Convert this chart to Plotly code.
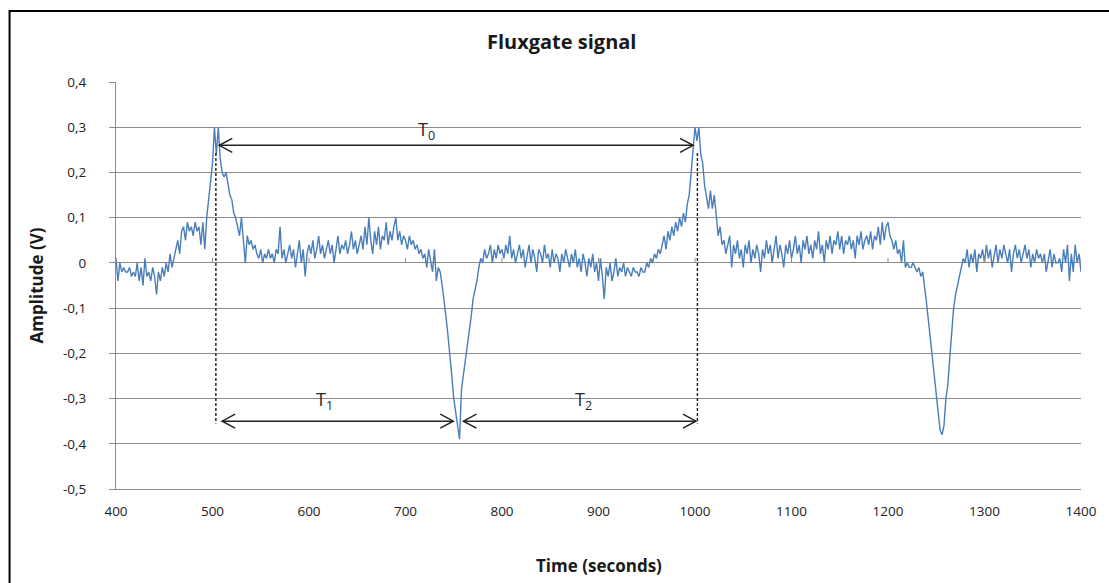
import plotly.graph_objects as go

# ---------------- data ----------------
time_s = list(range(400, 1401, 2))

amplitude_v = [
    # 400-418
    0.01, -0.04, 0.00, -0.02, -0.01, -0.02, -0.02, -0.01, -0.03, -0.02,
    # 420-438
    -0.03, 0.00, -0.04, -0.01, -0.05, 0.01, -0.03, -0.02, -0.04, -0.01,
    # 440-458
    -0.03, -0.07, -0.02, -0.04, -0.01, -0.03, 0.00, -0.02, 0.02, -0.01,
    # 460-478
    0.01, 0.03, 0.05, 0.02, 0.07, 0.08, 0.05, 0.09, 0.07, 0.08,
    # 480-498
    0.06, 0.09, 0.07, 0.08, 0.04, 0.09, 0.03, 0.10, 0.14, 0.17,
    # 500-518
    0.22, 0.30, 0.24, 0.30, 0.23, 0.20, 0.19, 0.20, 0.17, 0.15,
    # 520-538
    0.14, 0.11, 0.10, 0.08, 0.06, 0.10, 0.04, 0.00, 0.06, 0.04,
    # 540-558
    0.05, 0.03, 0.04, 0.02, 0.01, 0.03, 0.00, 0.02, 0.01, 0.03,
    # 560-578
    0.01, 0.02, 0.00, 0.03, 0.02, 0.08, 0.01, 0.03, 0.00, 0.02,
    # 580-598
    0.04, 0.01, 0.03, -0.01, 0.02, 0.05, 0.00, 0.03, -0.03, 0.02,
    # 600-618
    0.04, 0.02, 0.05, 0.01, 0.03, 0.06, 0.02, 0.04, 0.01, 0.03,
    # 620-638
    0.05, 0.02, 0.04, 0.00, 0.03, 0.06, 0.02, 0.04, 0.03, 0.05,
    # 640-658
    0.02, 0.04, 0.07, 0.03, 0.05, 0.02, 0.04, 0.06, 0.03, 0.08,
    # 660-678
    0.04, 0.10, 0.05, 0.02, 0.07, 0.04, 0.08, 0.03, 0.06, 0.05,
    # 680-698
    0.09, 0.04, 0.07, 0.05, 0.08, 0.10, 0.05, 0.07, 0.04, 0.06,
    # 700-718
    0.05, 0.03, 0.06, 0.04, 0.05, 0.03, 0.04, 0.02, 0.03, 0.01,
    # 720-738
    0.02, -0.01, 0.03, 0.00, -0.02, 0.03, -0.04, -0.01, -0.02, -0.05,
    # 740-758
    -0.08, -0.12, -0.16, -0.20, -0.25, -0.30, -0.33, -0.37, -0.39, -0.28,
    # 760-778
    -0.25, -0.22, -0.18, -0.15, -0.12, -0.08, -0.06, -0.04, -0.01, 0.01,
    # 780-798
    0.00, 0.03, 0.01, 0.02, 0.04, 0.00, 0.03, 0.01, 0.04, 0.02,
    # 800-818
    0.03, 0.01, 0.04, 0.02, 0.06, 0.01, 0.03, 0.00, 0.02, 0.04,
    # 820-838
    0.01, 0.03, -0.01, 0.02, 0.04, 0.00, 0.03, 0.01, -0.02, 0.03,
    # 840-858
    0.02, 0.00, 0.04, 0.01, 0.02, -0.01, 0.03, 0.00, 0.02, 0.01,
    # 860-878
    -0.02, 0.02, 0.00, 0.03, 0.01, -0.01, 0.02, 0.00, 0.03, -0.01,
    # 880-898
    0.01, -0.02, 0.02, 0.00, -0.03, 0.01, -0.01, 0.02, -0.02, 0.00,
    # 900-918
    -0.04, 0.01, -0.03, -0.08, -0.01, -0.03, 0.00, -0.04, -0.02, 0.01,
    # 920-938
    -0.03, -0.01, -0.02, 0.00, -0.03, -0.01, -0.02, -0.03, -0.01, -0.02,
    # 940-958
    -0.02, -0.03, -0.01, -0.02, -0.02, 0.00, -0.01, 0.01, 0.00, 0.02,
    # 960-978
    0.01, 0.03, 0.02, 0.04, 0.06, 0.03, 0.07, 0.05, 0.08, 0.06,
    # 980-998
    0.09, 0.07, 0.10, 0.08, 0.11, 0.09, 0.13, 0.15, 0.20, 0.24,
    # 1000-1018
    0.30, 0.27, 0.30, 0.24, 0.22, 0.17, 0.14, 0.12, 0.16, 0.12,
    # 1020-1038
    0.15, 0.10, 0.06, 0.08, 0.04, 0.05, 0.02, 0.04, 0.06, -0.01,
    # 1040-1058
    0.04, 0.02, 0.05, 0.01, 0.03, -0.01, 0.04, 0.02, 0.05, 0.00,
    # 1060-1078
    0.03, 0.01, 0.04, 0.02, -0.02, 0.03, 0.01, 0.05, 0.02, 0.04,
    # 1080-1098
    0.00, 0.03, 0.06, 0.01, 0.04, 0.02, -0.01, 0.04, 0.02, 0.05,
    # 1100-1118
    0.01, 0.03, 0.06, 0.02, 0.04, 0.00, 0.05, 0.03, 0.06, 0.02,
    # 1120-1138
    0.04, 0.01, 0.05, 0.03, 0.07, 0.02, 0.04, 0.00, 0.05, 0.03,
    # 1140-1158
    0.06, 0.02, 0.05, 0.04, 0.07, 0.03, 0.06, 0.02, 0.05, 0.04,
    # 1160-1178
    0.06, 0.03, 0.05, 0.01, 0.06, 0.04, 0.07, 0.03, 0.05, 0.06,
    # 1180-1198
    0.04, 0.07, 0.03, 0.06, 0.05, 0.08, 0.04, 0.09, 0.05, 0.08,
    # 1200-1218
    0.09, 0.06, 0.05, 0.03, 0.05, 0.02, 0.03, 0.00, 0.05, -0.01,
    # 1220-1238
    0.00, -0.01, -0.01, 0.00, -0.01, -0.02, -0.01, -0.03, -0.02, -0.05,
    # 1240-1258
    -0.09, -0.13, -0.17, -0.21, -0.26, -0.30, -0.34, -0.37, -0.38, -0.36,
    # 1260-1278
    -0.30, -0.27, -0.21, -0.16, -0.10, -0.07, -0.05, -0.03, -0.01, 0.01,
    # 1280-1298
    0.00, 0.03, -0.01, 0.02, 0.00, 0.03, -0.02, 0.02, 0.01, 0.03,
    # 1300-1318
    0.00, 0.04, 0.01, 0.03, -0.01, 0.02, 0.04, 0.00, 0.03, 0.01,
    # 1320-1338
    0.04, 0.02, 0.00, 0.03, -0.02, 0.02, 0.04, 0.01, 0.03, 0.00,
    # 1340-1358
    0.02, 0.04, 0.01, 0.03, -0.01, 0.02, 0.00, 0.03, 0.01, 0.02,
    # 1360-1378
    0.00, 0.02, -0.02, 0.01, 0.03, -0.01, 0.02, 0.00, 0.00, 0.01,
    # 1380-1398
    -0.02, 0.03, 0.00, 0.04, -0.04, 0.02, -0.02, 0.04, 0.00, 0.02,
    # 1400
    -0.02,
]

x_ticks = list(range(400, 1401, 100))
y_tick_vals = [0.4, 0.3, 0.2, 0.1, 0.0, -0.1, -0.2, -0.3, -0.4, -0.5]
y_tick_text = ["0,4", "0,3", "0,2", "0,1", "0", "-0,1", "-0,2", "-0,3", "-0,4", "-0,5"]

# period annotations: (label, x_start, x_end, arrow_y, label_x, label_y)
periods = [
    ("T<sub>0</sub>", 507, 998, 0.260, 722, 0.292),
    ("T<sub>1</sub>", 510, 749.5, -0.350, 616, -0.304),
    ("T<sub>2</sub>", 760, 1001, -0.350, 884, -0.304),
]
# dashed marker lines: x position, y top, y bottom
markers = [(503.5, 0.243, -0.355), (1002.5, 0.243, -0.355)]

FONT = "Open Sans, Liberation Sans, Arial, sans-serif"
GRID = "#8c8c8c"

L_PX, R_PX = 116, 1086     # plot area left / right edge in pixels
T_PX, B_PX = 82, 489       # plot area top / bottom edge in pixels
W, H = 1109, 583
PW, PH = R_PX - L_PX, B_PX - T_PX

fig = go.Figure()
fig.add_trace(go.Scatter(
    x=time_s, y=amplitude_v, mode="lines",
    line=dict(color="#4A7EBB", width=1.4),
    showlegend=False, hoverinfo="x+y",
))

shapes = []
# small x-axis tick marks on the zero line
for t in x_ticks:
    shapes.append(dict(type="line", xref="x", yref="y", ysizemode="pixel",
                       yanchor=0, x0=t, x1=t, y0=0, y1=5,
                       line=dict(color=GRID, width=1)))
# dashed vertical lines
for xm, yt, yb in markers:
    shapes.append(dict(type="line", xref="x", yref="y", x0=xm, x1=xm, y0=yt, y1=yb,
                       line=dict(color="#1a1a1a", width=1.4, dash="3px,2px")))
# arrows
for label, xs, xe, ya, lx, ly in periods:
    shapes.append(dict(type="line", xref="x", yref="y", x0=xs, x1=xe, y0=ya, y1=ya,
                       line=dict(color="#222222", width=1.5)))
    shapes.append(dict(type="path", xref="x", yref="y", xsizemode="pixel", ysizemode="pixel",
                       xanchor=xs, yanchor=ya, path="M 13 7 L 0 0 L 13 -7",
                       line=dict(color="#222222", width=1.5)))
    shapes.append(dict(type="path", xref="x", yref="y", xsizemode="pixel", ysizemode="pixel",
                       xanchor=xe, yanchor=ya, path="M -13 7 L 0 0 L -13 -7",
                       line=dict(color="#222222", width=1.5)))
# chart border
shapes.append(dict(type="rect", xref="paper", yref="paper",
                   x0=(9 - L_PX) / PW, x1=1.2, y0=-0.5, y1=(B_PX - 11) / PH,
                   line=dict(color="black", width=2), fillcolor="rgba(0,0,0,0)"))

annotations = []
for label, xs, xe, ya, lx, ly in periods:
    annotations.append(dict(x=lx, y=ly, xref="x", yref="y", text=label, showarrow=False,
                            xanchor="center", yanchor="middle",
                            font=dict(family=FONT, size=18, color="#262626")))
annotations.append(dict(x=(36 - L_PX) / PW, y=(B_PX - 285) / PH, xref="paper", yref="paper",
                        text="<b>Amplitude (V)</b>", textangle=-90, showarrow=False,
                        xanchor="center", yanchor="middle",
                        font=dict(family=FONT, size=17, color="#1a1a1a")))
annotations.append(dict(x=(601 - L_PX) / PW, y=(B_PX - 565) / PH, xref="paper", yref="paper",
                        text="<b>Time (seconds)</b>", showarrow=False,
                        xanchor="center", yanchor="middle",
                        font=dict(family=FONT, size=17, color="#1a1a1a")))

fig.update_layout(
    width=W, height=H,
    margin=dict(l=L_PX, r=W - R_PX, t=T_PX, b=H - B_PX),
    paper_bgcolor="white", plot_bgcolor="white",
    title=dict(text="<b>Fluxgate signal</b>", xref="paper", x=(564 - L_PX) / PW,
               xanchor="center", yref="container", y=1 - 42 / H, yanchor="middle",
               font=dict(family=FONT, size=20, color="#1a1a1a")),
    xaxis=dict(range=[400, 1400], tickvals=x_ticks, showgrid=False, zeroline=False,
               showline=True, linecolor=GRID, linewidth=1, ticks="",
               ticklabelstandoff=10,
               tickfont=dict(family=FONT, size=13.5, color="#222222")),
    yaxis=dict(range=[-0.5, 0.4], tickvals=y_tick_vals, ticktext=y_tick_text,
               showgrid=True, gridcolor=GRID, gridwidth=1, zeroline=False,
               showline=True, linecolor=GRID, linewidth=1,
               ticks="outside", ticklen=6, tickcolor=GRID, ticklabelstandoff=20,
               tickfont=dict(family=FONT, size=13.5, color="#222222")),
    shapes=shapes, annotations=annotations,
)

fig.write_html("out.html")
